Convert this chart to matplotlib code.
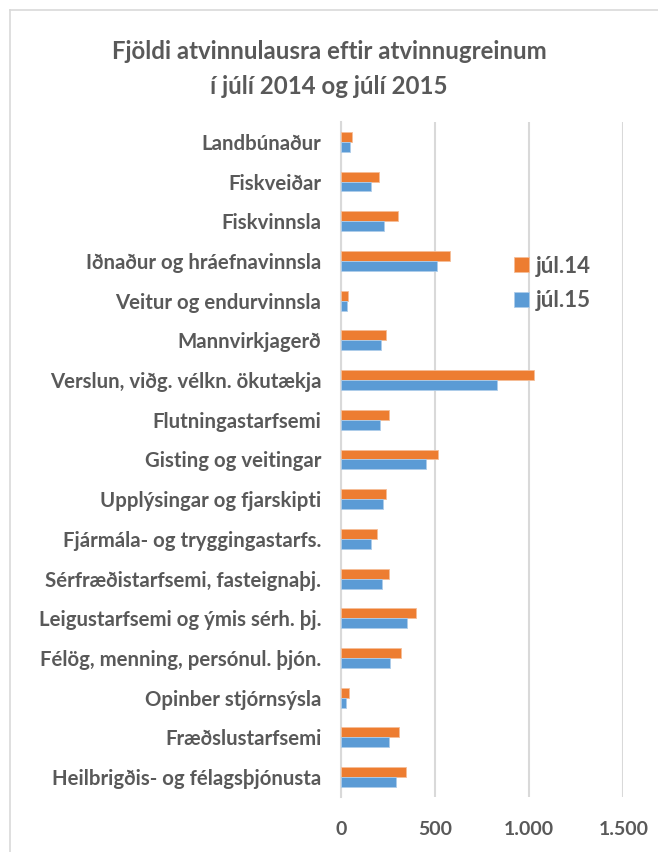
import matplotlib.pyplot as plt
from matplotlib.lines import Line2D

categories = [
    'Landbúnaður',
    'Fiskveiðar',
    'Fiskvinnsla',
    'Iðnaður og hráefnavinnsla',
    'Veitur og endurvinnsla',
    'Mannvirkjagerð',
    'Verslun, viðg. vélkn. ökutækja',
    'Flutningastarfsemi',
    'Gisting og veitingar',
    'Upplýsingar og fjarskipti',
    'Fjármála- og tryggingastarfs.',
    'Sérfræðistarfsemi, fasteignaþj.',
    'Leigustarfsemi og ýmis sérh. þj.',
    'Félög, menning, persónul. þjón.',
    'Opinber stjórnsýsla',
    'Fræðslustarfsemi',
    'Heilbrigðis- og félagsþjónusta',
]
jul14 = [58, 205, 306, 579, 37, 242, 1027, 255, 515, 242, 195, 255, 398, 322, 42, 310, 347]
jul15 = [50, 161, 232, 510, 32, 212, 827, 211, 451, 226, 161, 219, 354, 262, 27, 258, 294]
xticks = [0, 500, 1000, 1500]
xticklabels = ['0', '500', '1.000', '1.500']

plt.rcParams['font.family'] = ['Lato', 'DejaVu Sans']
text_color = '#595959'
grid_color = '#D9D9D9'
orange = '#ED7D31'
blue = '#5B9BD5'

fig = plt.figure(figsize=(6.58, 8.52), dpi=100)
ax = fig.add_axes([0.5178, 0.0646, 0.4295, 0.7922])

y = list(range(len(categories)))
h = 0.25
ax.barh([i - h / 2 for i in y], jul14, height=h, color=orange, label='júl.14',
        edgecolor='#F6BE98', linewidth=0.6, zorder=3)
ax.barh([i + h / 2 for i in y], jul15, height=h, color=blue, label='júl.15',
        edgecolor='#AECDEA', linewidth=0.6, zorder=3)

ax.set_ylim(-0.5, len(categories) - 0.5)
ax.invert_yaxis()
ax.set_xlim(0, 1500)
ax.set_yticks(y)
ax.set_yticklabels(categories, fontsize=14.7, fontweight='bold', color=text_color)
ax.set_xticks(xticks)
ax.set_xticklabels(xticklabels, fontsize=14, fontweight='bold', color=text_color)
ax.tick_params(axis='both', length=0)
ax.tick_params(axis='y', pad=14)
ax.tick_params(axis='x', pad=17)
ax.grid(axis='x', color=grid_color, linewidth=1.5, zorder=0)
for s in ['top', 'right', 'bottom']:
    ax.spines[s].set_visible(False)
ax.spines['left'].set_color(grid_color)
ax.spines['left'].set_linewidth(1.5)

fig.text(0.5, 0.919, 'Fjöldi atvinnulausra eftir atvinnugreinum\ní júlí 2014 og júlí 2015',
         ha='center', va='center', fontsize=17.3, fontweight='bold', color=text_color,
         linespacing=1.6)

fig.legend(loc='upper left', bbox_to_anchor=(0.751, 0.7235), frameon=False,
           handlelength=0.65, handleheight=0.65, handletextpad=0.3, labelspacing=0.6,
           prop={'size': 16, 'weight': 'bold'}, labelcolor=text_color)

# light frame around the chart
fig.add_artist(Line2D([10 / 658, 1.0], [1 - 10 / 852, 1 - 10 / 852],
                      transform=fig.transFigure, color=grid_color, linewidth=1.2))
fig.add_artist(Line2D([10 / 658, 10 / 658], [0.0, 1 - 10 / 852],
                      transform=fig.transFigure, color=grid_color, linewidth=1.2))

fig.savefig('out.png', dpi=100)
